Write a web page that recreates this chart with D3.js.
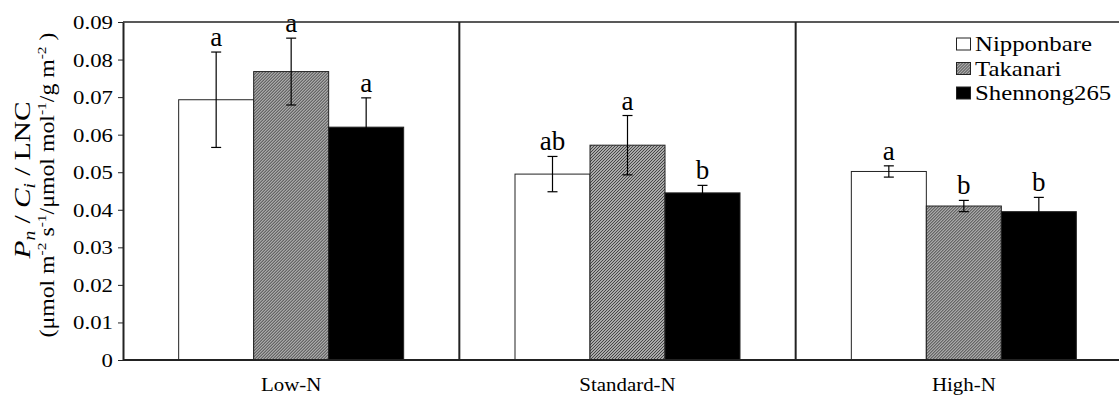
<!DOCTYPE html>
<html>
<head>
<meta charset="utf-8">
<script src="https://cdn.jsdelivr.net/npm/d3@7"></script>
<style>
  body { margin: 0; background: #fff; }
</style>
</head>
<body>
<svg id="chart" width="1119" height="395"></svg>
<script>
// data
const groups = ["Low-N", "Standard-N", "High-N"];
const cultivars = ["Nipponbare", "Takanari", "Shennong265"];
const means = [
    [0.0693, 0.0768, 0.0620],
    [0.0495, 0.0572, 0.0445],
    [0.0502, 0.0410, 0.0395]
];
const errors = [
    [0.0127, 0.0089, 0.0078],
    [0.0047, 0.0079, 0.0020],
    [0.0015, 0.0015, 0.0038]
];
const letters = [
    ["a", "a", "a"],
    ["ab", "a", "b"],
    ["a", "b", "b"]
];
const yTicks = [0, 0.01, 0.02, 0.03, 0.04, 0.05, 0.06, 0.07, 0.08, 0.09];

const svg = d3.select("#chart");
const plotLeft = 123, plotRight = 1132, plotTop = 22, plotBottom = 360;
const serif = "Liberation Serif";

// the original figure is a bit stretched sideways, text included
function placeText(sel, x, y, sx) {
    return sel.attr("x", 0).attr("y", 0)
        .attr("font-family", serif)
        .attr("fill", "#000")
        .attr("transform", `translate(${x},${y}) scale(${sx},1)`);
}

// hatch pattern for Takanari
const defs = svg.append("defs");
const pat = defs.append("pattern")
    .attr("id", "hatch")
    .attr("patternUnits", "userSpaceOnUse")
    .attr("width", 3).attr("height", 3);
pat.append("rect").attr("width", 3).attr("height", 3).attr("fill", "#a9a9a9");
pat.append("path").attr("d", "M-1,1 l2,-2 M0,3 l3,-3 M2,4 l2,-2")
    .attr("stroke", "#3a3a3a").attr("stroke-width", 0.9);

const fills = ["#ffffff", "url(#hatch)", "#000000"];

const x0 = d3.scaleBand().domain(groups).range([plotLeft, plotRight]).paddingInner(0).paddingOuter(0);
const x1 = d3.scaleBand().domain(cultivars).range([0, 225]);
const groupOffset = (x0.bandwidth() - 225) / 2;
const y = d3.scaleLinear().domain([0, 0.09]).range([plotBottom, plotTop]);

// y axis
const yAxis = svg.append("g")
    .attr("transform", `translate(${plotLeft},0)`)
    .call(d3.axisLeft(y).tickValues(yTicks).tickSize(5).tickSizeOuter(0)
        .tickFormat(d => d === 0 ? "0" : d3.format(".2f")(d)));
yAxis.attr("font-family", serif).attr("font-size", 19);
yAxis.select(".domain").attr("stroke", "#222").attr("stroke-width", 2);
yAxis.selectAll(".tick line").attr("stroke", "#222");
yAxis.selectAll(".tick text")
    .attr("font-size", 19)
    .attr("dy", null)
    .each(function () {
        placeText(d3.select(this), -10, 6.5, 1.2);
    });

// bars
groups.forEach((g, gi) => {
    const gx = x0(g) + groupOffset;
    const grp = svg.append("g").attr("transform", `translate(${gx},0)`);
    cultivars.forEach((c, ci) => {
        const v = means[gi][ci];
        grp.append("rect")
            .attr("x", x1(c))
            .attr("y", y(v))
            .attr("width", x1.bandwidth())
            .attr("height", y(0) - y(v))
            .attr("fill", fills[ci])
            .attr("stroke", "#222")
            .attr("stroke-width", 1);
    });
    cultivars.forEach((c, ci) => {
        const v = means[gi][ci], e = errors[gi][ci];
        const cx = x1(c) + x1.bandwidth() / 2;
        grp.append("line").attr("x1", cx).attr("x2", cx)
            .attr("y1", y(v + e)).attr("y2", y(v - e))
            .attr("stroke", "#000").attr("stroke-width", 1.2);
        [v + e, v - e].forEach(t => {
            grp.append("line").attr("x1", cx - 5).attr("x2", cx + 5)
                .attr("y1", y(t)).attr("y2", y(t))
                .attr("stroke", "#000").attr("stroke-width", 1.2);
        });
        placeText(grp.append("text"), cx, y(v + e) - 6, 1.0)
            .attr("text-anchor", "middle")
            .attr("font-size", 27)
            .text(letters[gi][ci]);
    });
    // category label
    placeText(svg.append("text"), x0(g) + x0.bandwidth() / 2, 391, 1.1)
        .attr("text-anchor", "middle")
        .attr("font-size", 19)
        .text(g);
});

// panel frame: top, bottom, dividers
svg.append("line").attr("x1", plotLeft).attr("x2", plotRight).attr("y1", plotTop).attr("y2", plotTop)
    .attr("stroke", "#222").attr("stroke-width", 1.5);
svg.append("line").attr("x1", plotLeft).attr("x2", plotRight).attr("y1", plotBottom).attr("y2", plotBottom)
    .attr("stroke", "#222").attr("stroke-width", 2);
groups.slice(1).forEach(g => {
    svg.append("line").attr("x1", x0(g)).attr("x2", x0(g)).attr("y1", plotTop).attr("y2", plotBottom)
        .attr("stroke", "#222").attr("stroke-width", 2);
});

// legend
const legend = svg.append("g").attr("transform", "translate(956,51)");
cultivars.forEach((c, i) => {
    const row = legend.append("g").attr("transform", `translate(0,${i * 24.5})`);
    row.append("rect").attr("x", 0.5).attr("y", -13).attr("width", 14).attr("height", 12)
        .attr("fill", fills[i]).attr("stroke", "#222").attr("stroke-width", 1);
    placeText(row.append("text"), 19, 0, 1.18)
        .attr("font-size", 21)
        .text(c);
});

// y axis title
const title = svg.append("g").attr("transform", "translate(0,180) rotate(-90)");
const t1 = title.append("text").attr("x", 0).attr("y", 30)
    .attr("text-anchor", "middle").attr("font-family", serif).attr("font-size", 24)
    .attr("textLength", 157).attr("lengthAdjust", "spacingAndGlyphs");
t1.append("tspan").attr("font-style", "italic").text("P");
t1.append("tspan").attr("font-style", "italic").attr("font-size", 16).attr("dy", 5).text("n");
t1.append("tspan").attr("dy", -5).text(" / ");
t1.append("tspan").attr("font-style", "italic").text("C");
t1.append("tspan").attr("font-style", "italic").attr("font-size", 16).attr("dy", 5).text("i");
t1.append("tspan").attr("dy", -5).text(" / LNC");
const t2 = svg.append("g").attr("transform", "translate(0,185) rotate(-90)")
    .append("text").attr("x", 0).attr("y", 54)
    .attr("text-anchor", "middle").attr("font-family", serif).attr("font-size", 20)
    .attr("textLength", 305).attr("lengthAdjust", "spacingAndGlyphs");
t2.append("tspan").text("(μmol m");
t2.append("tspan").attr("font-size", 13).attr("dy", -8).text("-2");
t2.append("tspan").attr("dy", 8).text(" s");
t2.append("tspan").attr("font-size", 13).attr("dy", -8).text("-1");
t2.append("tspan").attr("dy", 8).text("/μmol mol");
t2.append("tspan").attr("font-size", 13).attr("dy", -8).text("-1");
t2.append("tspan").attr("dy", 8).text("/g m");
t2.append("tspan").attr("font-size", 13).attr("dy", -8).text("-2");
t2.append("tspan").attr("dy", 8).text(" )");
</script>
</body>
</html>
